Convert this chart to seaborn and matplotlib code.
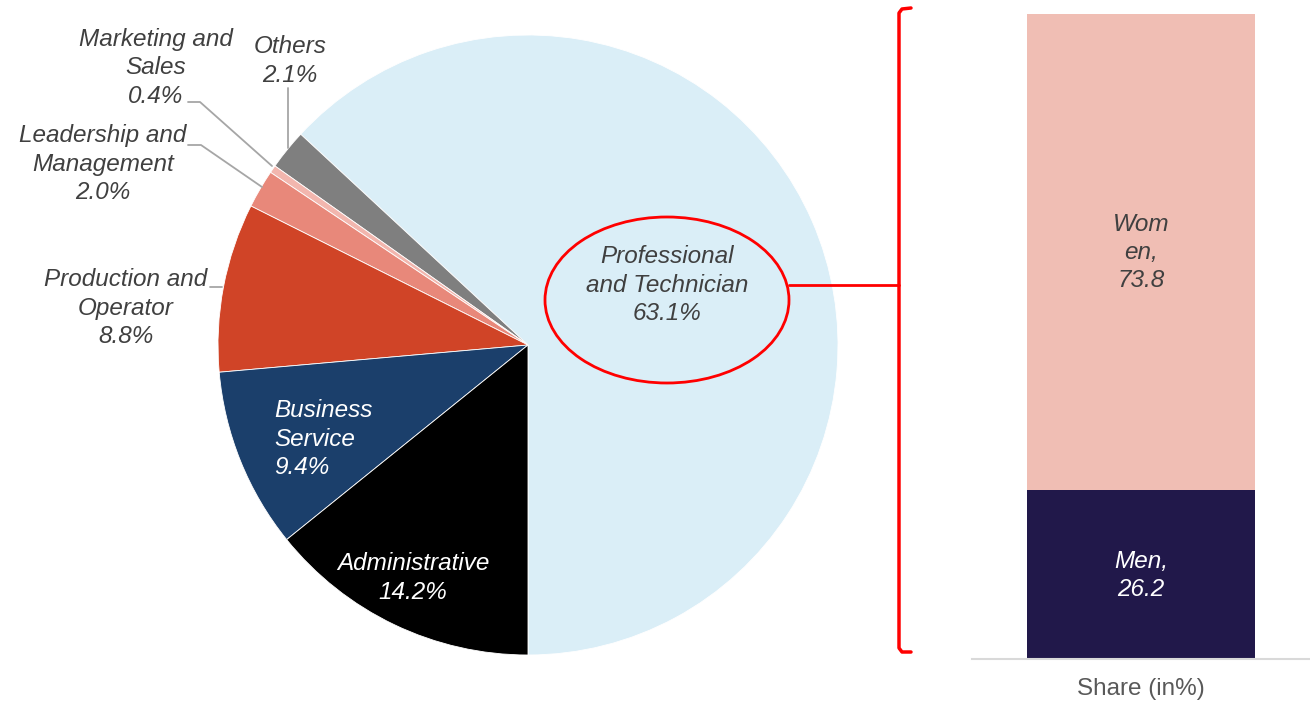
import matplotlib
matplotlib.use("Agg")
import matplotlib.pyplot as plt
from matplotlib.patches import Ellipse
import seaborn as sns
import pandas as pd

# ---------------- data ----------------
categories = ["Professional\nand Technician", "Others", "Marketing and\nSales",
              "Leadership and\nManagement", "Production and\nOperator",
              "Business\nService", "Administrative"]
shares = [63.1, 2.1, 0.4, 2.0, 8.8, 9.4, 14.2]
slice_colors = ["#DAEEF7", "#7F7F7F", "#F2B6AE", "#E8887A", "#D04427", "#1B3F6B", "#000000"]

genders = ["Men", "Women"]
gender_share = [26.2, 73.8]
gender_colors = ["#21184A", "#F0BEB4"]
bar_category = "Share (in%)"

# ---------------- style ----------------
sns.set_theme(style="white")
plt.rcParams["font.family"] = ["Liberation Sans", "DejaVu Sans"]
TXT = "#404040"
FS = 17.5
LS = 1.28

W, H = 1310, 701
fig = plt.figure(figsize=(W / 100, H / 100), dpi=100)

# ---------------- pie ----------------
cx, cy, R = 528, 345, 310
pie_w = 940
ax = fig.add_axes([0, 0, pie_w / W, 1])
wedges, _ = ax.pie(shares, colors=slice_colors, startangle=-90, counterclock=True,
                   radius=R, wedgeprops=dict(edgecolor="white", linewidth=0.6))
ax.set_xlim(-cx, pie_w - cx)
ax.set_ylim(-(H - cy), cy)
ax.set_aspect("auto")
ax.axis("off")

def pd_(x, y):
    return (x - cx, cy - y)

labels_pos = {
    0: (667, 285, "center", TXT),
    1: (290, 61, "center", TXT),
    2: (156, 68, "center", TXT),
    3: (103, 164, "center", TXT),
    4: (126, 308, "center", TXT),
    5: (274, 439, "left", "white"),
    6: (413, 578, "center", "white"),
}
for i, (x, y, ha, col) in labels_pos.items():
    ax.text(*pd_(x, y), f"{categories[i]}\n{shares[i]:.1f}%", ha=ha, va="center",
            color=col, fontsize=FS, style="italic", linespacing=LS)

# ---------------- overlay (annotations in pixel space) ----------------
ov = fig.add_axes([0, 0, 1, 1], zorder=5)
ov.set_xlim(0, W)
ov.set_ylim(H, 0)
ov.axis("off")
ov.patch.set_alpha(0)

lc = "#A6A6A6"
ov.plot([188, 200, 272], [102, 102, 166], color=lc, lw=1.3)
ov.plot([188, 201, 262], [145, 145, 187], color=lc, lw=1.3)
ov.plot([288, 288], [88, 148], color=lc, lw=1.3)
ov.plot([210, 222], [287, 287], color=lc, lw=1.3)

red = "#FF0000"
ov.add_patch(Ellipse((667, 300), 244, 166, fill=False, edgecolor=red, lw=2))
ov.plot([789, 899], [285, 285], color=red, lw=2)
ov.plot([911, 902, 899, 899, 902, 911], [8, 9, 13, 648, 652, 652], color=red, lw=2.5,
        solid_joinstyle="round", solid_capstyle="round")

# ---------------- stacked bar ----------------
bx0, bx1, btop, bbot = 972, 1310, 14, 659
bax = fig.add_axes([bx0 / W, (H - bbot) / H, (bx1 - bx0) / W, (bbot - btop) / H])
total = gender_share[0] + gender_share[1]
df_total = pd.DataFrame({"cat": [bar_category], "v": [total]})
df_men = pd.DataFrame({"cat": [bar_category], "v": [gender_share[0]]})
bw = 228 / (bx1 - bx0)
sns.barplot(data=df_total, x="cat", y="v", color=gender_colors[1], width=bw,
            saturation=1, ax=bax, linewidth=0)
sns.barplot(data=df_men, x="cat", y="v", color=gender_colors[0], width=bw,
            saturation=1, ax=bax, linewidth=0)
bax.set_xlim(-0.5, 0.5)
bax.set_ylim(0, 100)
bax.set_xlabel("")
bax.set_ylabel("")
bax.set_yticks([])
for s in ["top", "left", "right"]:
    bax.spines[s].set_visible(False)
bax.spines["bottom"].set_color("#D9D9D9")
bax.spines["bottom"].set_linewidth(1.5)
bax.tick_params(axis="x", length=0, pad=14, labelsize=FS, labelcolor="#595959")

bax.text(0, 12.9, f"{genders[0]},\n{gender_share[0]:.1f}",
         ha="center", va="center", color="white", fontsize=FS, style="italic", linespacing=LS)
bax.text(0, 63, f"Wom\nen,\n{gender_share[1]:.1f}", ha="center", va="center",
         color=TXT, fontsize=FS, style="italic", linespacing=LS)

fig.savefig("out.png", dpi=100)
